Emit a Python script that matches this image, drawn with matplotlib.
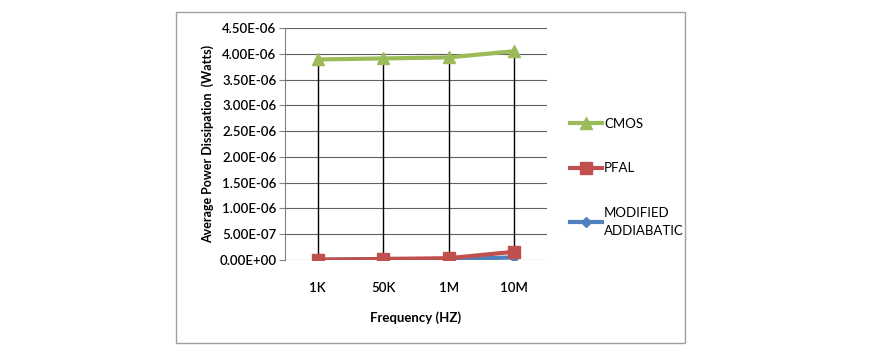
import matplotlib.pyplot as plt
from matplotlib.patches import Rectangle
from matplotlib.ticker import FuncFormatter, MultipleLocator

freqs = ["1K", "50K", "1M", "10M"]
cmos = [3.89e-6, 3.91e-6, 3.93e-6, 4.05e-6]
pfal = [0.5e-8, 2.0e-8, 3.5e-8, 1.6e-7]
modified = [0.5e-8, 2.0e-8, 1.5e-8, 5.0e-8]

plt.rcParams['font.family'] = ['Lato', 'DejaVu Sans']

fig = plt.figure(figsize=(8.95, 3.61), dpi=100)
fig.patches.append(Rectangle((176 / 895, 1 - 343 / 361), (685 - 176) / 895, (343 - 12) / 361,
                             transform=fig.transFigure, fill=False, edgecolor='#a0a0a0', lw=1))

ax = fig.add_axes([285 / 895, 101 / 361, 262 / 895, 232 / 361])
x = list(range(len(freqs)))

ax.vlines(x, 0, cmos, color='black', lw=1, zorder=2)
ax.plot(x, cmos, color='#9BBB59', lw=3, marker='^', ms=8, label='CMOS', zorder=3)
ax.plot(x, pfal, color='#C0504D', lw=3, marker='s', ms=8, label='PFAL', zorder=4)
ax.plot(x, modified, color='#4F81BD', lw=3, marker='D', ms=5, label='MODIFIED\nADDIABATIC', zorder=3)

ax.set_xlim(-0.5, 3.5)
ax.set_ylim(0, 4.5e-6)
ax.yaxis.set_major_locator(MultipleLocator(0.5e-6))
ax.yaxis.set_major_formatter(FuncFormatter(lambda v, p: f"{v:.2E}"))
ax.set_xticks(x)
ax.set_xticklabels(freqs)
ax.grid(axis='y', color='#606060', lw=0.8)
ax.set_axisbelow(True)
for s in ['top', 'right', 'bottom']:
    ax.spines[s].set_visible(False)
ax.spines['left'].set_color('#808080')
ax.tick_params(axis='y', length=4, color='#808080', labelsize=9.5, pad=2)
ax.tick_params(axis='x', length=0, labelsize=9.5, pad=16)
for lab in ax.get_xticklabels() + ax.get_yticklabels():
    lab.set_fontweight('semibold')
ax.set_ylabel('Average Power Dissipation  (Watts)', fontsize=9, fontweight='bold', labelpad=4)
ax.set_xlabel('Frequency (HZ)', fontsize=9.5, fontweight='bold', labelpad=12)

leg = fig.legend(loc='upper left', bbox_to_anchor=(558 / 895, 1 - 106 / 361), frameon=False,
                 fontsize=9.5, labelspacing=2.45, handlelength=2.4, handletextpad=0.2)
for t in leg.get_texts():
    t.set_linespacing(1.6)

fig.savefig('out.png', dpi=100)
